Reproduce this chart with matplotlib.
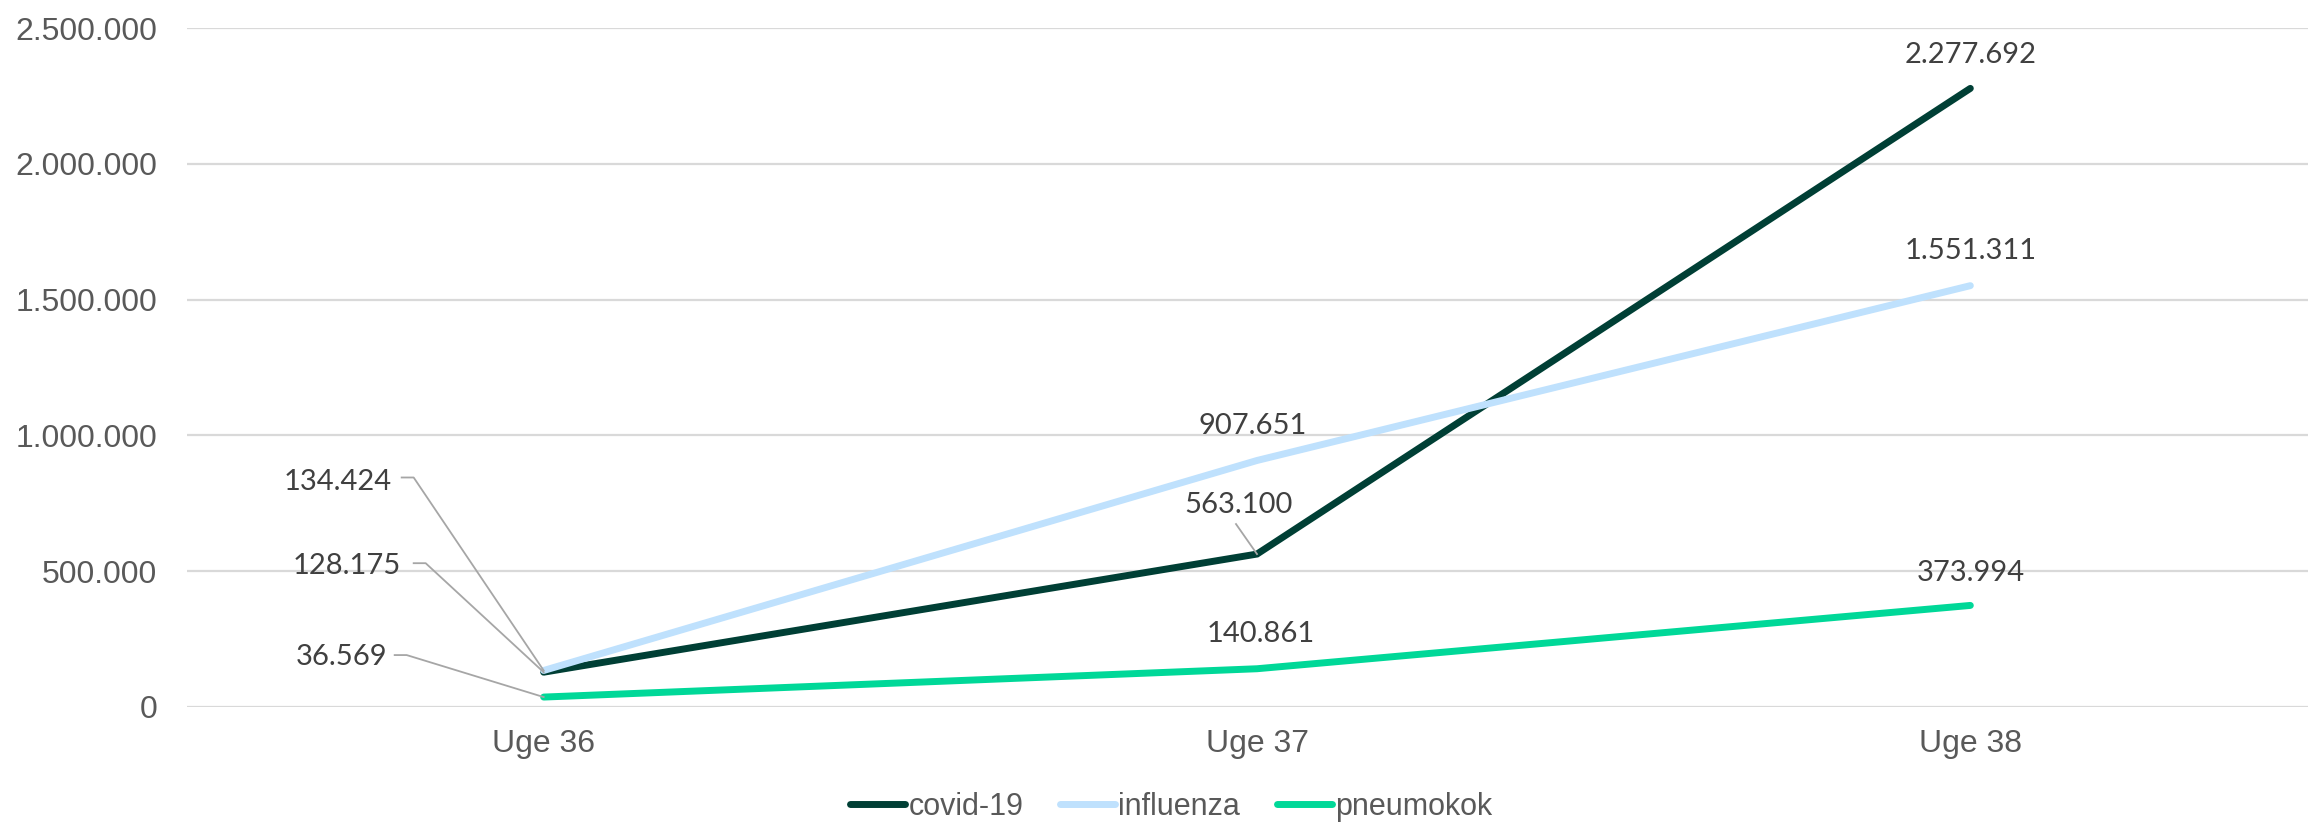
import matplotlib
matplotlib.use("Agg")
import matplotlib.pyplot as plt
from matplotlib.lines import Line2D
from matplotlib.transforms import IdentityTransform
from matplotlib.ticker import FuncFormatter

# data
weeks = ["Uge 36", "Uge 37", "Uge 38"]
covid = [128175, 563100, 2277692]
influenza = [134424, 907651, 1551311]
pneumokok = [36569, 140861, 373994]

series = [
    ("covid-19", covid, "#003F35"),
    ("influenza", influenza, "#BFE1FD"),
    ("pneumokok", pneumokok, "#00D898"),
]

def dk(v):
    return f"{int(v):,}".replace(",", ".")

W, H = 2308, 825
fig = plt.figure(figsize=(W / 100, H / 100), dpi=100)
ax = fig.add_axes([187 / W, 1 - 707 / H, (2327 - 187) / W, (707 - 28) / H])

x = list(range(len(weeks)))
for name, vals, col in series:
    ax.plot(x, vals, color=col, lw=5, label=name, solid_capstyle="round",
            solid_joinstyle="miter", zorder=3)

ax.set_xlim(-0.5, 2.5)
ax.set_ylim(0, 2500000)
ax.set_yticks(range(0, 2500001, 500000))
ax.yaxis.set_major_formatter(FuncFormatter(lambda v, p: dk(v)))
ax.set_xticks(x)
ax.set_xticklabels(weeks)
for s in ax.spines.values():
    s.set_visible(False)
ax.grid(axis="y", color="#D9D9D9", lw=1.6)
ax.set_axisbelow(True)
ax.tick_params(axis="y", length=0, pad=21.5, labelsize=23, labelcolor="#595959")
ax.tick_params(axis="x", length=0, pad=16, labelsize=23, labelcolor="#595959")
for t in ax.get_xticklabels() + ax.get_yticklabels():
    t.set_fontfamily("Liberation Sans")

lab_kw = dict(textcoords="offset pixels", fontsize=21, color="#404040",
              family="Lato", zorder=4)
lead = "#A6A6A6"

# labels above points at Uge 37 / 38
simple = [
    (2, covid[2], 0, 33),
    (2, influenza[2], 0, 35),
    (2, pneumokok[2], 0, 32),
    (1, influenza[1], -4, 34),
    (1, pneumokok[1], 4, 35),
]
for xi, v, dx, dy in simple:
    ax.annotate(dk(v), (xi, v), xytext=(dx, dy), ha="center", va="center", **lab_kw)

# 563.100 with short leader
ax.annotate(dk(covid[1]), (1, covid[1]), xytext=(-18, 49), ha="center", va="center", **lab_kw)

# Uge 36 labels, pulled out to the left
left = [
    (influenza[0], -152, 188),
    (covid[0], -143, 106),
    (pneumokok[0], -156, 40),
]
for v, tx, ty in left:
    ax.annotate(dk(v), (0, v), xytext=(tx, ty), ha="right", va="center", **lab_kw)

# leader lines in pixel offsets from the point: [(dx, dy), ...]
leaders = [
    (0, influenza[0], [(-142, 193), (-130, 193)]),
    (0, covid[0], [(-130, 109), (-118, 109)]),
    (0, pneumokok[0], [(-149, 42), (-137, 42)]),
    (1, covid[1], []),
]
fig.canvas.draw()
for xi, v, pts in leaders:
    px, py = ax.transData.transform((xi, v))
    if pts:
        xs = [px + dx for dx, dy in pts] + [px]
        ys = [py + dy for dx, dy in pts] + [py]
    else:
        xs = [px - 21, px]
        ys = [py + 30, py]
    fig.add_artist(Line2D(xs, ys, transform=IdentityTransform(), color=lead, lw=1.3,
                          zorder=2))

leg = fig.legend(loc="center", bbox_to_anchor=(1171 / W, 1 - 807 / H), ncol=3,
                 frameon=False, handlelength=1.8, handletextpad=0.1, columnspacing=1.2,
                 prop={"family": "Liberation Sans", "size": 22})
for t in leg.get_texts():
    t.set_color("#595959")

fig.savefig("out.png", dpi=100)
